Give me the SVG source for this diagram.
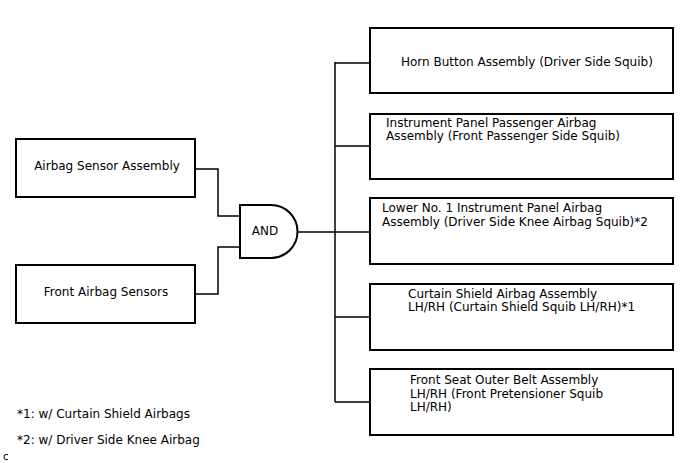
<svg xmlns="http://www.w3.org/2000/svg" width="688" height="463" viewBox="0 0 688 463">
<style>
.box{fill:#fff;stroke:#000;stroke-width:2}
.ln{fill:none;stroke:#000;stroke-width:1.5}
text{font-family:"DejaVu Sans",sans-serif;font-size:12px;fill:#000}
</style>
<rect width="688" height="463" fill="#fff"/>
<g id="connectors">
<path class="ln" d="M195,169 H218 V216 H240"/>
<path class="ln" d="M195,294 H218 V247 H240"/>
<path class="ln" d="M297.5,232 H335"/>
<path class="ln" d="M335,62 V402"/>
<path class="ln" d="M335,63 H370"/>
<path class="ln" d="M335,146 H370"/>
<path class="ln" d="M335,232 H370"/>
<path class="ln" d="M335,317 H370"/>
<path class="ln" d="M335,402 H370"/>
</g>
<g id="airbag-sensor-assembly">
<rect class="box" x="16" y="139" width="179" height="58"/>
<text x="107" y="170" text-anchor="middle">Airbag Sensor Assembly</text>
</g>
<g id="front-airbag-sensors">
<rect class="box" x="16" y="265" width="179" height="58"/>
<text x="106" y="296" text-anchor="middle">Front Airbag Sensors</text>
</g>
<g id="and-gate">
<path class="box" d="M240,205 H271 A26.5,26.5 0 0 1 271,258 H240 Z"/>
<text x="265" y="235" text-anchor="middle">AND</text>
</g>
<g id="horn-button">
<rect class="box" x="370" y="28" width="303" height="65"/>
<text x="401" y="65.5">Horn Button Assembly (Driver Side Squib)</text>
</g>
<g id="passenger-airbag">
<rect class="box" x="370" y="114" width="303" height="65"/>
<text x="386" y="127">Instrument Panel Passenger Airbag</text>
<text x="386" y="140">Assembly (Front Passenger Side Squib)</text>
</g>
<g id="knee-airbag">
<rect class="box" x="370" y="198" width="303" height="66"/>
<text x="382" y="212">Lower No. 1 Instrument Panel Airbag</text>
<text x="382" y="225.5">Assembly (Driver Side Knee Airbag Squib)*2</text>
</g>
<g id="curtain-shield">
<rect class="box" x="370" y="284" width="303" height="66"/>
<text x="408" y="297.5">Curtain Shield Airbag Assembly</text>
<text x="408" y="311">LH/RH (Curtain Shield Squib LH/RH)*1</text>
</g>
<g id="front-seat-belt">
<rect class="box" x="370" y="369" width="303" height="66"/>
<text x="410" y="384">Front Seat Outer Belt Assembly</text>
<text x="410" y="397.5">LH/RH (Front Pretensioner Squib</text>
<text x="410" y="411">LH/RH)</text>
</g>
<g id="notes">
<text x="17" y="418">*1: w/ Curtain Shield Airbags</text>
<text x="17" y="444">*2: w/ Driver Side Knee Airbag</text>
<text x="3" y="460" style="font-size:10px">c</text>
</g>
</svg>
